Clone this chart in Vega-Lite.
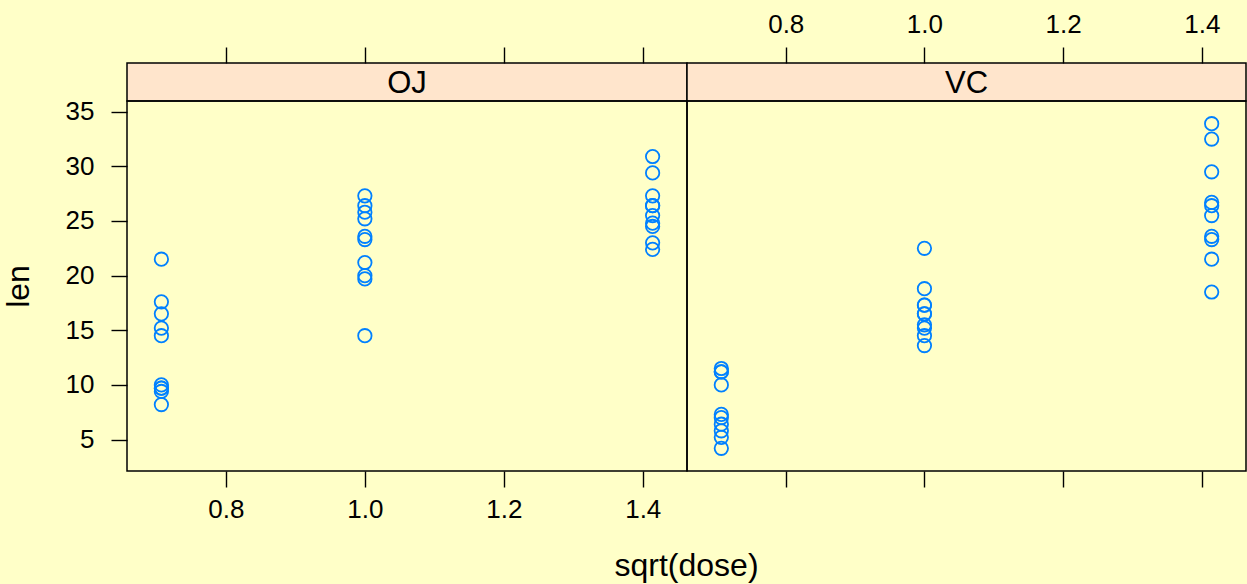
{
  "$schema": "https://vega.github.io/schema/vega-lite/v6.json",
  "background": "#FFFFC8",
  "padding": {"left": 1, "top": 10, "right": 1, "bottom": 2},
  "title": {"text": "sqrt(dose)", "orient": "bottom", "anchor": "middle", "frame": "group", "dx": 559.5, "fontSize": 32, "fontWeight": "normal", "font": "Liberation Sans", "color": "black", "offset": 28},
  "config": {
    "font": "Liberation Sans",
    "view": {"stroke": "black", "strokeWidth": 1.5},
    "axis": {"domain": false, "grid": false, "tickColor": "black", "tickSize": 16, "tickWidth": 1.4, "labelFontSize": 26, "labelColor": "black", "labelFont": "Liberation Sans", "titleFont": "Liberation Sans", "titleFontSize": 32, "titleFontWeight": "normal", "titleColor": "black", "labelPadding": 9}
  },
  "datasets": {
    "tooth": [
      {"supp": "OJ", "sqrtdose": 0.7071, "len": 15.2}, {"supp": "OJ", "sqrtdose": 0.7071, "len": 21.5}, {"supp": "OJ", "sqrtdose": 0.7071, "len": 17.6}, {"supp": "OJ", "sqrtdose": 0.7071, "len": 9.7}, {"supp": "OJ", "sqrtdose": 0.7071, "len": 14.5},
      {"supp": "OJ", "sqrtdose": 0.7071, "len": 10.0}, {"supp": "OJ", "sqrtdose": 0.7071, "len": 8.2}, {"supp": "OJ", "sqrtdose": 0.7071, "len": 9.4}, {"supp": "OJ", "sqrtdose": 0.7071, "len": 16.5}, {"supp": "OJ", "sqrtdose": 0.7071, "len": 9.7},
      {"supp": "OJ", "sqrtdose": 1.0, "len": 19.7}, {"supp": "OJ", "sqrtdose": 1.0, "len": 23.3}, {"supp": "OJ", "sqrtdose": 1.0, "len": 23.6}, {"supp": "OJ", "sqrtdose": 1.0, "len": 26.4}, {"supp": "OJ", "sqrtdose": 1.0, "len": 20.0},
      {"supp": "OJ", "sqrtdose": 1.0, "len": 25.2}, {"supp": "OJ", "sqrtdose": 1.0, "len": 25.8}, {"supp": "OJ", "sqrtdose": 1.0, "len": 21.2}, {"supp": "OJ", "sqrtdose": 1.0, "len": 14.5}, {"supp": "OJ", "sqrtdose": 1.0, "len": 27.3},
      {"supp": "OJ", "sqrtdose": 1.4142, "len": 25.5}, {"supp": "OJ", "sqrtdose": 1.4142, "len": 26.4}, {"supp": "OJ", "sqrtdose": 1.4142, "len": 22.4}, {"supp": "OJ", "sqrtdose": 1.4142, "len": 24.5}, {"supp": "OJ", "sqrtdose": 1.4142, "len": 24.8},
      {"supp": "OJ", "sqrtdose": 1.4142, "len": 30.9}, {"supp": "OJ", "sqrtdose": 1.4142, "len": 26.4}, {"supp": "OJ", "sqrtdose": 1.4142, "len": 27.3}, {"supp": "OJ", "sqrtdose": 1.4142, "len": 29.4}, {"supp": "OJ", "sqrtdose": 1.4142, "len": 23.0},
      {"supp": "VC", "sqrtdose": 0.7071, "len": 4.2}, {"supp": "VC", "sqrtdose": 0.7071, "len": 11.5}, {"supp": "VC", "sqrtdose": 0.7071, "len": 7.3}, {"supp": "VC", "sqrtdose": 0.7071, "len": 5.8}, {"supp": "VC", "sqrtdose": 0.7071, "len": 6.4},
      {"supp": "VC", "sqrtdose": 0.7071, "len": 10.0}, {"supp": "VC", "sqrtdose": 0.7071, "len": 11.2}, {"supp": "VC", "sqrtdose": 0.7071, "len": 11.2}, {"supp": "VC", "sqrtdose": 0.7071, "len": 5.2}, {"supp": "VC", "sqrtdose": 0.7071, "len": 7.0},
      {"supp": "VC", "sqrtdose": 1.0, "len": 16.5}, {"supp": "VC", "sqrtdose": 1.0, "len": 16.5}, {"supp": "VC", "sqrtdose": 1.0, "len": 15.2}, {"supp": "VC", "sqrtdose": 1.0, "len": 17.3}, {"supp": "VC", "sqrtdose": 1.0, "len": 22.5},
      {"supp": "VC", "sqrtdose": 1.0, "len": 17.3}, {"supp": "VC", "sqrtdose": 1.0, "len": 13.6}, {"supp": "VC", "sqrtdose": 1.0, "len": 14.5}, {"supp": "VC", "sqrtdose": 1.0, "len": 18.8}, {"supp": "VC", "sqrtdose": 1.0, "len": 15.5},
      {"supp": "VC", "sqrtdose": 1.4142, "len": 23.6}, {"supp": "VC", "sqrtdose": 1.4142, "len": 18.5}, {"supp": "VC", "sqrtdose": 1.4142, "len": 33.9}, {"supp": "VC", "sqrtdose": 1.4142, "len": 25.5}, {"supp": "VC", "sqrtdose": 1.4142, "len": 26.4},
      {"supp": "VC", "sqrtdose": 1.4142, "len": 32.5}, {"supp": "VC", "sqrtdose": 1.4142, "len": 26.7}, {"supp": "VC", "sqrtdose": 1.4142, "len": 21.5}, {"supp": "VC", "sqrtdose": 1.4142, "len": 23.3}, {"supp": "VC", "sqrtdose": 1.4142, "len": 29.5}
    ],
    "strips": [{"supp": "OJ"}, {"supp": "VC"}]
  },
  "columns": 2,
  "bounds": "flush",
  "spacing": 0,
  "concat": [
    {
      "width": 560, "height": 38,
      "view": {"fill": "#FFE5CC", "stroke": "black", "strokeWidth": 1.5},
      "layer": [
        {
          "data": {"name": "tooth"},
          "transform": [{"filter": "datum.supp == 'OJ'"}],
          "mark": {"type": "point", "opacity": 0},
          "encoding": {
            "x": {"field": "sqrtdose", "type": "quantitative", "scale": {"domain": [0.6576, 1.4637], "zero": false, "nice": false}, "axis": {"orient": "top", "values": [0.8, 1.0, 1.2, 1.4], "labels": false, "title": null}}
          }
        },
        {
          "data": {"name": "strips"},
          "transform": [{"filter": "datum.supp == 'OJ'"}],
          "mark": {"type": "text", "fontSize": 31, "font": "Liberation Sans", "color": "black", "dy": 2},
          "encoding": {"text": {"field": "supp", "type": "nominal"}}
        }
      ]
    },
    {
      "width": 559, "height": 38,
      "view": {"fill": "#FFE5CC", "stroke": "black", "strokeWidth": 1.5},
      "layer": [
        {
          "data": {"name": "tooth"},
          "transform": [{"filter": "datum.supp == 'VC'"}],
          "mark": {"type": "point", "opacity": 0},
          "encoding": {
            "x": {"field": "sqrtdose", "type": "quantitative", "scale": {"domain": [0.6576, 1.4637], "zero": false, "nice": false}, "axis": {"orient": "top", "values": [0.8, 1.0, 1.2, 1.4], "format": ".1f", "title": null, "labelPadding": 10}}
          }
        },
        {
          "data": {"name": "strips"},
          "transform": [{"filter": "datum.supp == 'VC'"}],
          "mark": {"type": "text", "fontSize": 31, "font": "Liberation Sans", "color": "black", "dy": 2},
          "encoding": {"text": {"field": "supp", "type": "nominal"}}
        }
      ]
    },
    {
      "width": 560, "height": 370,
      "data": {"name": "tooth"},
      "transform": [{"filter": "datum.supp == 'OJ'"}],
      "mark": {"type": "point", "filled": false, "color": "#0080FF", "size": 180, "strokeWidth": 1.8, "opacity": 1},
      "encoding": {
        "x": {"field": "sqrtdose", "type": "quantitative", "scale": {"domain": [0.6576, 1.4637], "zero": false, "nice": false}, "axis": {"orient": "bottom", "values": [0.8, 1.0, 1.2, 1.4], "format": ".1f", "title": null}},
        "y": {"field": "len", "type": "quantitative", "scale": {"domain": [2.12, 35.98], "zero": false, "nice": false}, "axis": {"values": [5, 10, 15, 20, 25, 30, 35], "format": "d", "title": "len", "titlePadding": 30, "labelPadding": 17}}
      }
    },
    {
      "width": 559, "height": 370,
      "data": {"name": "tooth"},
      "transform": [{"filter": "datum.supp == 'VC'"}],
      "mark": {"type": "point", "filled": false, "color": "#0080FF", "size": 180, "strokeWidth": 1.8, "opacity": 1},
      "encoding": {
        "x": {"field": "sqrtdose", "type": "quantitative", "scale": {"domain": [0.6576, 1.4637], "zero": false, "nice": false}, "axis": {"orient": "bottom", "values": [0.8, 1.0, 1.2, 1.4], "labels": false, "title": null}},
        "y": {"field": "len", "type": "quantitative", "scale": {"domain": [2.12, 35.98], "zero": false, "nice": false}, "axis": null}
      }
    }
  ]
}
